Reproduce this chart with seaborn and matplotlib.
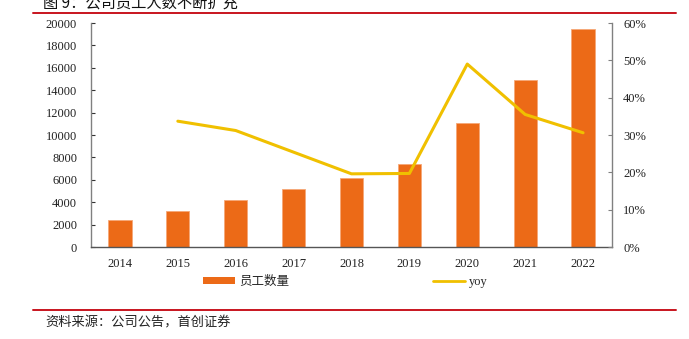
import numpy as np
import pandas as pd
import matplotlib
matplotlib.use("Agg")
import matplotlib.pyplot as plt
from matplotlib.lines import Line2D
from matplotlib.patches import Patch
from matplotlib.ticker import FuncFormatter, MultipleLocator
import seaborn as sns

# Data
years = ["2014", "2015", "2016", "2017", "2018", "2019", "2020", "2021", "2022"]
employees = [2400, 3210, 4190, 5180, 6190, 7410, 11050, 14920, 19460]
yoy = [np.nan, 33.7, 31.2, 25.4, 19.6, 19.7, 49.0, 35.5, 30.6]

title = "图 9：公司员工人数不断扩充"
source = "资料来源：公司公告，首创证券"
bar_label = "员工数量"
line_label = "yoy"

BAR_COLOR = "#EC6A17"
LINE_COLOR = "#F0C000"
RED = "#C8141E"
SPINE = "#808080"

sns.set_theme(style="white")
plt.rcParams["font.family"] = ["Liberation Serif", "Noto Sans CJK SC"]

df = pd.DataFrame({"year": years, "employees": employees, "yoy": yoy})
df["pos"] = np.arange(len(df))

fig = plt.figure(figsize=(6.89, 3.39), dpi=100)
ax = fig.add_axes([91 / 689, 1 - 247 / 339, (612 - 91) / 689, (247 - 23) / 339])

sns.barplot(data=df, x="year", y="employees", color=BAR_COLOR, width=0.4,
            saturation=1, ax=ax, edgecolor="#F6A878", linewidth=0.6)
ax.set_xlim(-0.5, len(years) - 0.5)
ax.set_ylim(0, 20000)
ax.yaxis.set_major_locator(MultipleLocator(2000))
ax.set_xlabel("")
ax.set_ylabel("")

ax2 = ax.twinx()
sns.lineplot(data=df, x="pos", y="yoy", color=LINE_COLOR, linewidth=2.2, ax=ax2)
ax2.set_ylim(0, 60)
ax2.yaxis.set_major_locator(MultipleLocator(10))
ax2.yaxis.set_major_formatter(FuncFormatter(lambda v, p: f"{v:.0f}%"))
ax2.set_xlabel("")
ax2.set_ylabel("")
ax2.set_xlim(-0.5, len(years) - 0.5)

# Ticks between categories on the x axis
ax.set_xticks(np.arange(-0.5, len(years)), minor=True)
ax.tick_params(axis="x", which="major", length=0, pad=8, labelsize=9, labelcolor="#222222")
ax.tick_params(axis="x", which="minor", direction="in", length=3, color="#333333", width=0.8)
ax.tick_params(axis="y", direction="in", length=3, color="#333333", width=0.8,
               labelsize=9, labelcolor="#222222", pad=10, left=True)
ax2.tick_params(axis="y", direction="in", length=3, color=SPINE, width=0.8,
                labelsize=9, labelcolor="#222222", pad=8, right=True)

for a in (ax, ax2):
    a.spines["top"].set_visible(False)
    a.grid(False)
ax.spines["right"].set_visible(False)
ax.spines["left"].set_color(SPINE)
ax.spines["bottom"].set_color("#555555")
ax2.spines["left"].set_visible(False)
ax2.spines["bottom"].set_visible(False)
ax2.spines["right"].set_color(SPINE)
for s in ("left", "bottom", "right"):
    ax.spines[s].set_linewidth(1.0)
    ax2.spines[s].set_linewidth(1.0)

# Legend below the plot
handles = [Patch(facecolor=BAR_COLOR, edgecolor="none"),
           Line2D([0], [0], color=LINE_COLOR, linewidth=2)]
fig.legend(handles, [bar_label, line_label], loc="center", ncol=2,
           bbox_to_anchor=(345 / 689, 1 - 282 / 339), frameon=False,
           columnspacing=11.5, handlelength=2.6, handleheight=0.45,
           handletextpad=0.3,
           prop={"family": ["Liberation Serif", "Noto Sans CJK SC"], "size": 9})

# Title, rules and source note
fig.text(43 / 689, 1 - 3 / 339, title, ha="left", va="center", fontsize=11,
         family=["Noto Sans CJK SC"], color="#111111")
fig.add_artist(Line2D([33 / 689, 676 / 689], [1 - 13 / 339] * 2, color=RED, linewidth=1.4))
fig.add_artist(Line2D([33 / 689, 676 / 689], [1 - 310 / 339] * 2, color=RED, linewidth=1.4))
fig.text(45 / 689, 1 - 323 / 339, source, ha="left", va="center", fontsize=9.5,
         family=["Noto Sans CJK SC"], color="#222222", style="italic")

fig.savefig("out.png", dpi=100, facecolor="white")
